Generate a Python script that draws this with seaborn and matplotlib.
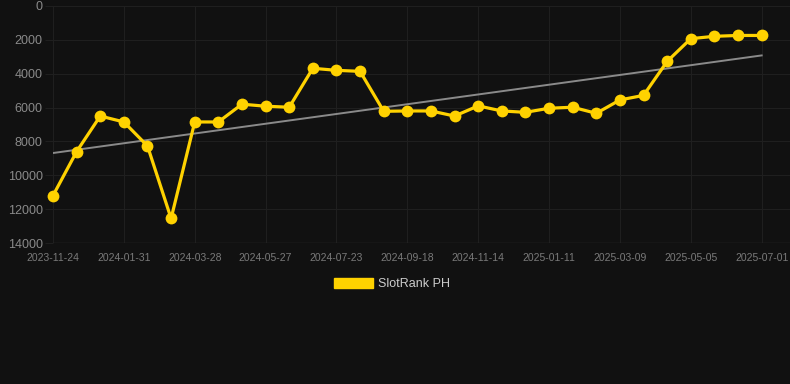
import pandas as pd
import seaborn as sns
import matplotlib.pyplot as plt
import numpy as np
from matplotlib.patches import Patch

# data (rank, lower is better)
dates = ['2023-11-24', '2023-12-17', '2024-01-09', '2024-01-31', '2024-02-19', '2024-03-09',
         '2024-03-28', '2024-04-17', '2024-05-07', '2024-05-27', '2024-06-15', '2024-07-04',
         '2024-07-23', '2024-08-11', '2024-08-30', '2024-09-18', '2024-10-07', '2024-10-26',
         '2024-11-14', '2024-12-03', '2024-12-22', '2025-01-11', '2025-01-30', '2025-02-18',
         '2025-03-09', '2025-03-28', '2025-04-16', '2025-05-05', '2025-05-24', '2025-06-12',
         '2025-07-01']
ranks = [11200, 8600, 6500, 6850, 8270, 12550, 6850, 6850, 5800, 5920, 5980, 3680,
         3800, 3860, 6220, 6200, 6200, 6500, 5900, 6200, 6280, 6040, 5980, 6340,
         5550, 5280, 3270, 1930, 1790, 1740, 1740]
y_ticks = [0, 2000, 4000, 6000, 8000, 10000, 12000, 14000]
series_name = 'SlotRank PH'

df = pd.DataFrame({'date': dates, 'rank': ranks})
df['idx'] = np.arange(len(df))

bg = '#111111'
gold = '#FFD200'
grid_c = '#1f1f1f'
plt.rcParams['font.family'] = ['Liberation Sans', 'DejaVu Sans']

fig = plt.figure(figsize=(7.9, 3.84), dpi=100, facecolor=bg)
ax = fig.add_axes([53 / 790, 1 - 243 / 384, 1 - 53 / 790, 237 / 384])
ax.set_facecolor(bg)

# trend line (linear fit through the series)
sns.regplot(data=df, x='idx', y='rank', scatter=False, ci=None, ax=ax,
            line_kws={'color': '#8a8a8a', 'lw': 1.4, 'zorder': 2})

sns.lineplot(data=df, x='idx', y='rank', ax=ax, color=gold, lw=2.3,
             marker='o', markersize=8.5, markeredgewidth=0, zorder=3, clip_on=False)

ax.set_xlim(0, 31.2)
ax.set_ylim(14000, 0)
ax.set_yticks(y_ticks)
ax.set_yticklabels([str(t) for t in y_ticks])
tick_pos = df['idx'][::3]
ax.set_xticks(tick_pos)
ax.set_xticklabels(df['date'][::3])
ax.set_xlabel('')
ax.set_ylabel('')

ax.grid(True, color=grid_c, lw=0.8)
ax.set_axisbelow(True)
for s in ax.spines.values():
    s.set_visible(False)
ax.axhline(14000, color='#2c2c2c', lw=1, zorder=1)
ax.tick_params(axis='y', colors=grid_c, length=6, width=0.8, pad=1.5, labelsize=9,
               labelcolor='#8a8a8a')
ax.tick_params(axis='x', colors=grid_c, length=0, pad=7, labelsize=7.5,
               labelcolor='#7a7a7a')

fig.legend(handles=[Patch(facecolor=gold, edgecolor=gold, label=series_name)],
           loc='center', bbox_to_anchor=(0.5 - 3 / 790, 1 - 284 / 384), frameon=False,
           fontsize=9, labelcolor='#cccccc', handlelength=3.1, handleheight=0.9,
           handletextpad=0.45)

fig.savefig('out.png', dpi=100, facecolor=bg)
